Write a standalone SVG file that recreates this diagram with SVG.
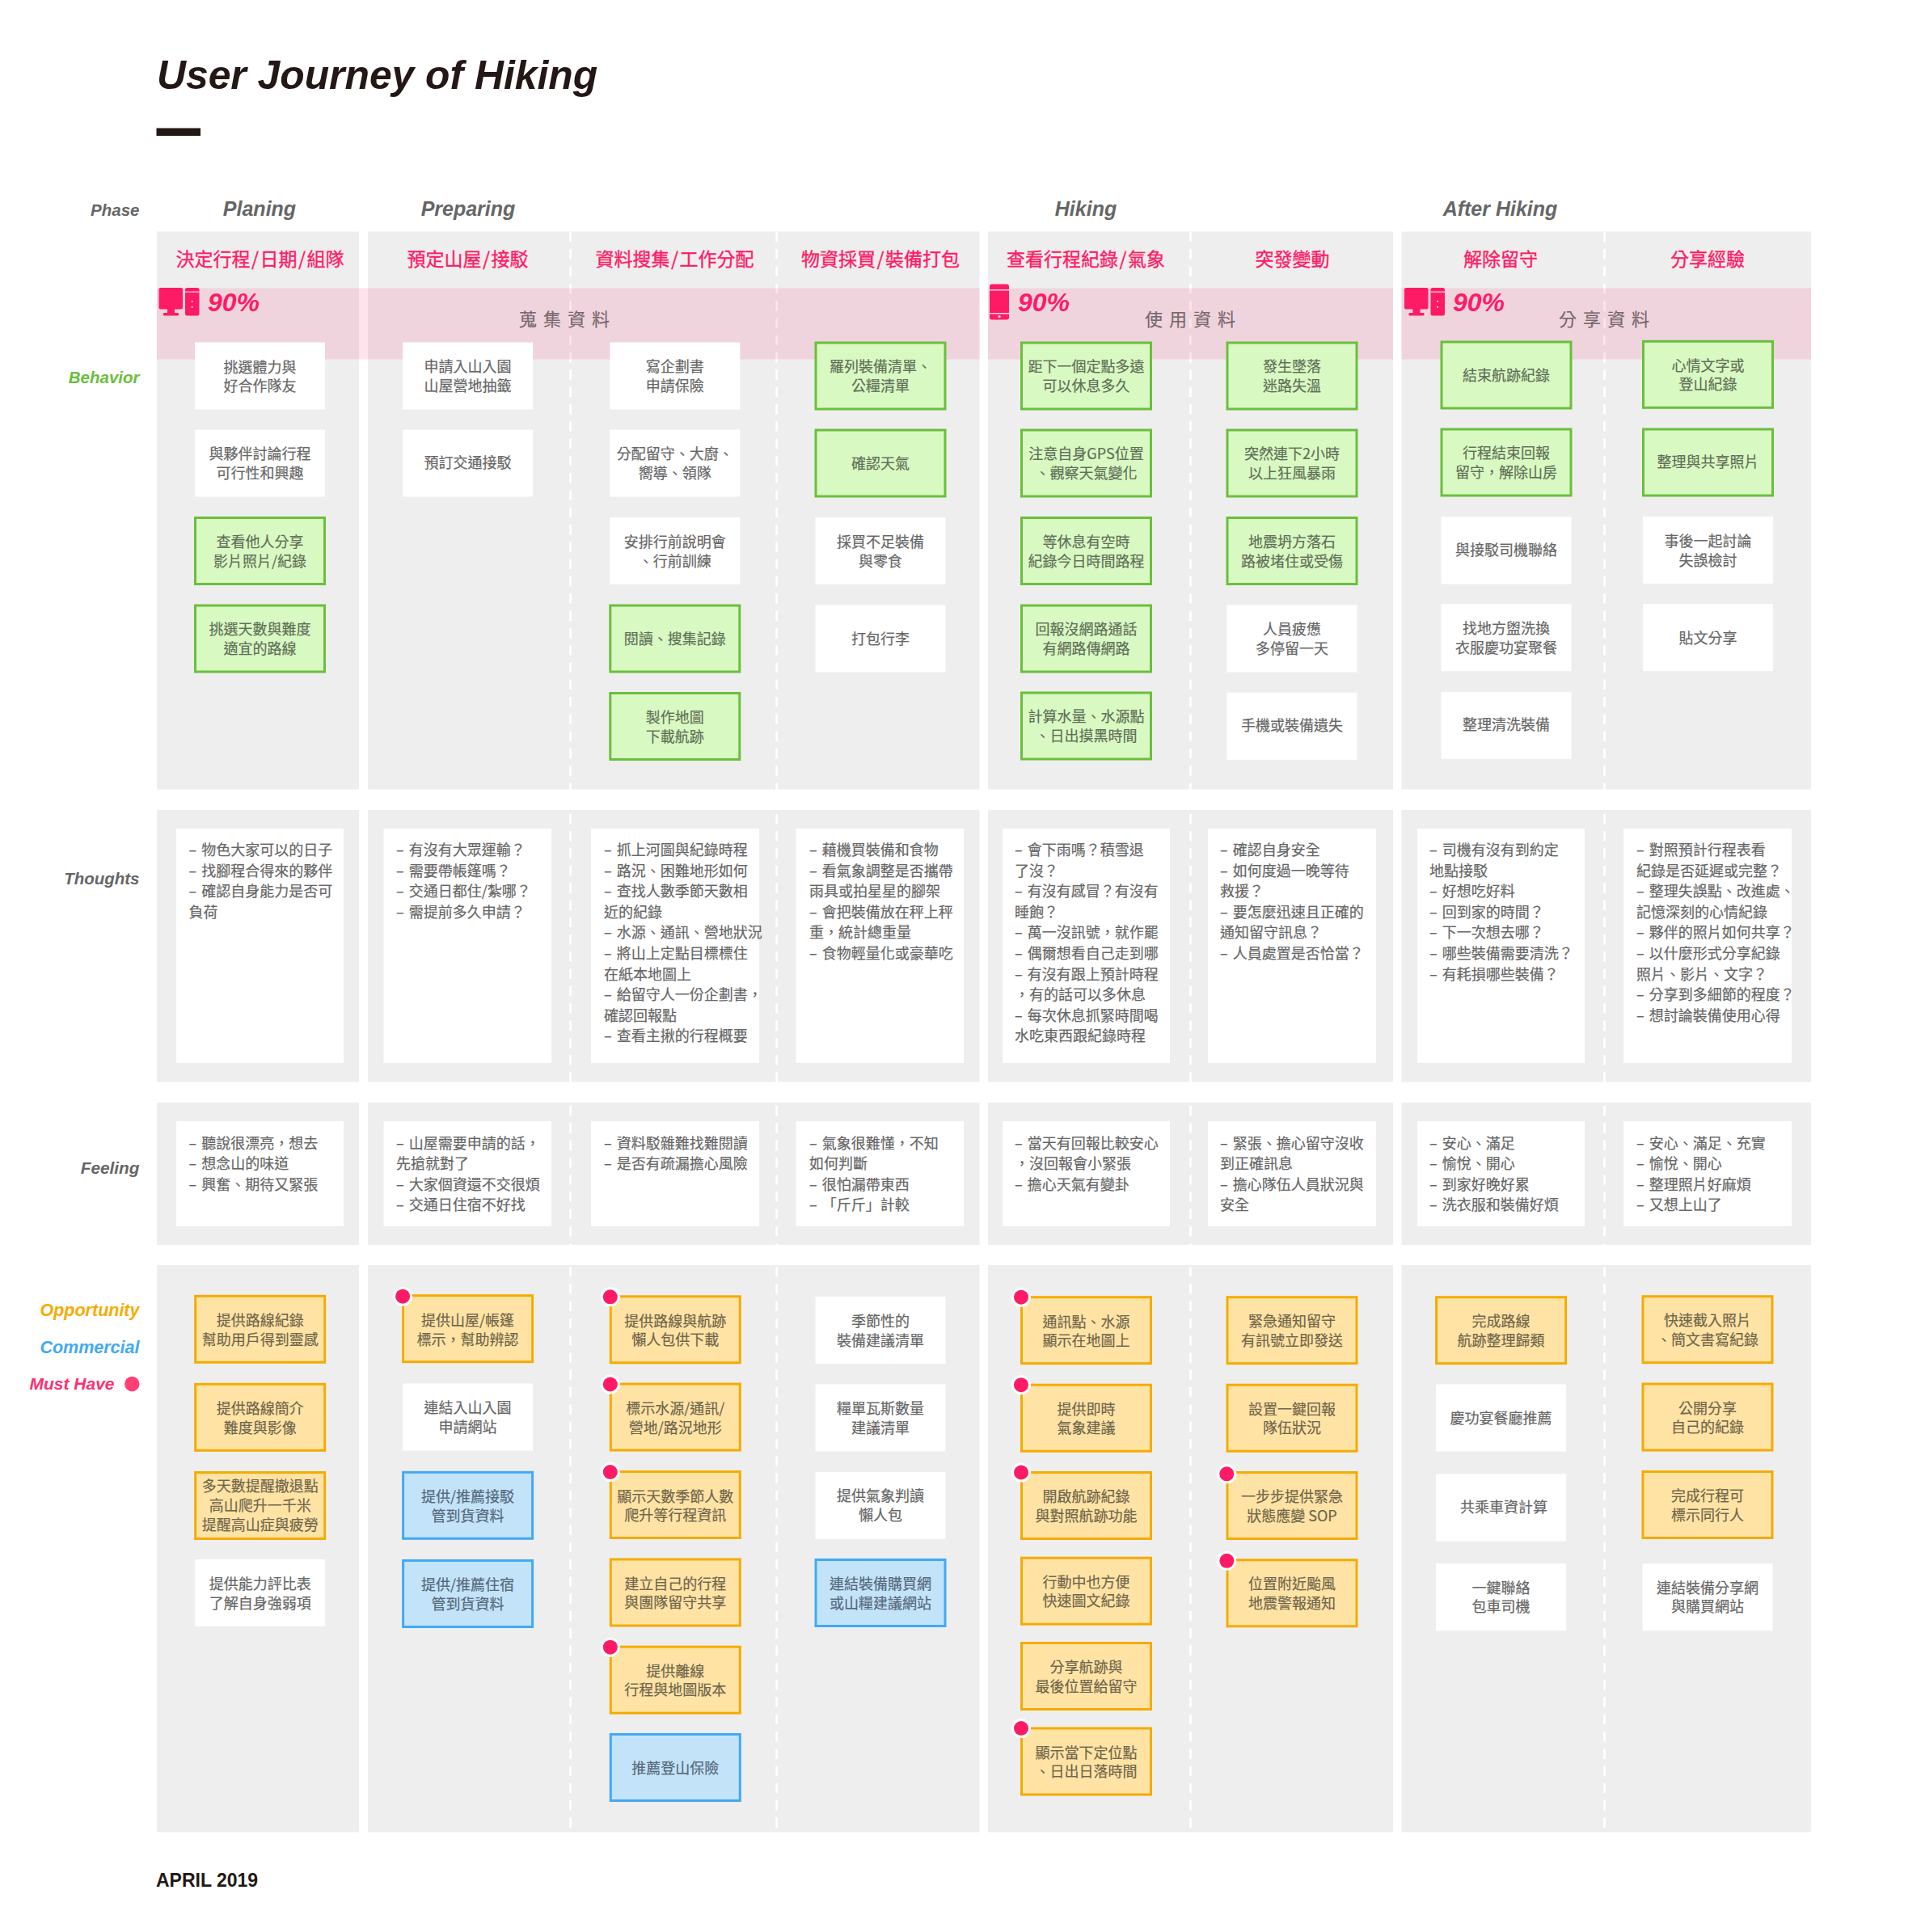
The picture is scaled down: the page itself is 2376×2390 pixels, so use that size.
<svg xmlns="http://www.w3.org/2000/svg" width="2376" height="2390" viewBox="0 0 2376 2390">
<style>
text{font-family:"Noto Sans CJK TC","Noto Sans",sans-serif}
.p{fill:#eee}
.d{stroke:#fff;stroke-width:2.8;stroke-dasharray:12.3 9;fill:none}
.band{fill:#ff1a66;fill-opacity:.12}
.w{fill:#fff}
.g{fill:#d9f9c2;stroke:#6abf3c;stroke-width:3}
.o{fill:#fee3a5;stroke:#f5ab00;stroke-width:3}
.b{fill:#c3e3f9;stroke:#42a9f5;stroke-width:3}
.t{font-size:18px;fill:#666;stroke:#666;stroke-width:.2;text-anchor:middle}
.tg{font-size:18px;fill:#5f6f58;stroke:#5f6f58;stroke-width:.2;text-anchor:middle}
.to{font-size:18px;fill:#70654a;stroke:#70654a;stroke-width:.2;text-anchor:middle}
.tb{font-size:18px;fill:#55687a;stroke:#55687a;stroke-width:.2;text-anchor:middle}
.l{font-size:18px;fill:#666;stroke:#666;stroke-width:.2;word-spacing:2px}
.ring{fill:#fff}
.dot{fill:#ff1a66}
.h{font-size:23px;fill:#ff1a66;stroke:#ff1a66;stroke-width:.35;text-anchor:middle}
.bt{font-size:22px;fill:#77696f;stroke:#77696f;stroke-width:.2;text-anchor:middle;word-spacing:3px}
.pc{font-family:"Liberation Sans",sans-serif;font-weight:700;font-style:italic;font-size:32px;fill:#ff1a66}
.ph{font-family:"Liberation Sans",sans-serif;font-weight:700;font-style:italic;font-size:25px;fill:#666;text-anchor:middle}
.rl{font-family:"Liberation Sans",sans-serif;font-weight:700;font-style:italic;font-size:20.5px;text-anchor:end}
.ic{fill:#ff1a66}
</style>

<g id="title">
<text x="194" y="110" style="font-family:'Liberation Sans',sans-serif;font-weight:700;font-style:italic;font-size:49.8px;fill:#231815">User Journey of Hiking</text>
<rect x="193.5" y="158.5" width="54.5" height="9.5" fill="#231815"/>
</g>

<g id="panels">
<rect class="p" x="194" y="286.5" width="250" height="690"/><rect class="p" x="455" y="286.5" width="756.5" height="690"/><rect class="p" x="1222" y="286.5" width="501" height="690"/><rect class="p" x="1733.5" y="286.5" width="506.5" height="690"/>
<rect class="p" x="194" y="1002" width="250" height="336.5"/><rect class="p" x="455" y="1002" width="756.5" height="336.5"/><rect class="p" x="1222" y="1002" width="501" height="336.5"/><rect class="p" x="1733.5" y="1002" width="506.5" height="336.5"/>
<rect class="p" x="194" y="1364" width="250" height="176"/><rect class="p" x="455" y="1364" width="756.5" height="176"/><rect class="p" x="1222" y="1364" width="501" height="176"/><rect class="p" x="1733.5" y="1364" width="506.5" height="176"/>
<rect class="p" x="194" y="1565" width="250" height="701.5"/><rect class="p" x="455" y="1565" width="756.5" height="701.5"/><rect class="p" x="1222" y="1565" width="501" height="701.5"/><rect class="p" x="1733.5" y="1565" width="506.5" height="701.5"/>
</g>

<g id="connectors">
<path class="d" d="M705.6 287V977M960.7 287V977M1472.4 287V977M1984.5 287V977"/>
<path class="d" d="M705.6 1007V1338.5M960.7 1007V1338.5M1472.4 1007V1338.5M1984.5 1007V1338.5"/>
<path class="d" d="M705.6 1368V1540M960.7 1368V1540M1472.4 1368V1540M1984.5 1368V1540"/>
<path class="d" d="M705.6 1567V2266.5M960.7 1567V2266.5M1472.4 1567V2266.5M1984.5 1567V2266.5"/>
</g>

<g id="bands">
<rect class="band" x="194" y="356.5" width="1017.5" height="88"/>
<rect class="band" x="1222" y="356.5" width="501" height="88"/>
<rect class="band" x="1733.5" y="356.5" width="506.5" height="88"/>
<text class="bt" x="698" y="403">蒐 集 資 料</text>
<text class="bt" x="1472" y="403">使 用 資 料</text>
<text class="bt" x="1984" y="403">分 享 資 料</text>
</g>

<g id="device-desktop-1">
<rect class="ic" x="196.5" y="356" width="29.5" height="26.5" rx="2"/><rect class="ic" x="207" y="382" width="9" height="5"/><rect class="ic" x="202" y="387" width="19" height="3.5" rx="1"/>
<rect class="ic" x="229" y="356" width="17.5" height="34.5" rx="2.5"/><rect x="229" y="360.5" width="17.5" height="1.2" fill="#f0d4de"/><rect x="236.8" y="372" width="1.6" height="1.6" fill="#fff"/><rect x="236.8" y="379" width="1.6" height="1.6" fill="#fff"/>
<text class="pc" x="257" y="384.5">90%</text>
</g>
<g id="device-phone">
<rect class="ic" x="1224" y="351.5" width="24" height="44" rx="3"/><rect x="1224" y="358" width="24" height="1.5" fill="#f0d4de"/><rect x="1224" y="387" width="24" height="1.5" fill="#f0d4de"/><circle cx="1236" cy="391.7" r="1.6" fill="#fff"/>
<text class="pc" x="1259" y="384.5">90%</text>
</g>
<g id="device-desktop-2">
<rect class="ic" x="1737" y="356" width="29.5" height="26.5" rx="2"/><rect class="ic" x="1747.5" y="382" width="9" height="5"/><rect class="ic" x="1742.5" y="387" width="19" height="3.5" rx="1"/>
<rect class="ic" x="1769.5" y="356" width="17.5" height="34.5" rx="2.5"/><rect x="1769.5" y="360.5" width="17.5" height="1.2" fill="#f0d4de"/><rect x="1777.3" y="372" width="1.6" height="1.6" fill="#fff"/><rect x="1777.3" y="379" width="1.6" height="1.6" fill="#fff"/>
<text class="pc" x="1797" y="384.5">90%</text>
</g>

<g id="phase-labels">
<text class="rl" x="172.5" y="267" fill="#666">Phase</text>
<text class="ph" x="321" y="267">Planing</text>
<text class="ph" x="579" y="267">Preparing</text>
<text class="ph" x="1343" y="267">Hiking</text>
<text class="ph" x="1855.5" y="267">After Hiking</text>
</g>

<g id="row-labels">
<text class="rl" x="172.5" y="474" fill="#6abf3c">Behavior</text>
<text class="rl" x="172.5" y="1094" fill="#666">Thoughts</text>
<text class="rl" x="172.5" y="1452" fill="#666" style="font-size:20.8px">Feeling</text>
<text class="rl" x="172.5" y="1628" fill="#f5ab00" style="font-size:21.5px">Opportunity</text>
<text class="rl" x="172.5" y="1674" fill="#42a9f5" style="font-size:21.5px">Commercial</text>
<text class="rl" x="141.5" y="1719" fill="#ff2f6f" style="font-size:21px">Must Have</text>
<circle cx="163.3" cy="1712" r="9.2" fill="#ff4076"/>
</g>

<g id="stage-headers">
<text class="h" x="321.5" y="329">決定行程<tspan dx="1.5">/</tspan><tspan dx="1.5">日期</tspan><tspan dx="1.5">/</tspan><tspan dx="1.5">組隊</tspan></text>
<text class="h" x="578.5" y="329">預定山屋<tspan dx="1.5">/</tspan><tspan dx="1.5">接駁</tspan></text>
<text class="h" x="834.5" y="329">資料搜集<tspan dx="1.5">/</tspan><tspan dx="1.5">工作分配</tspan></text>
<text class="h" x="1089" y="329">物資採買<tspan dx="1.5">/</tspan><tspan dx="1.5">裝備打包</tspan></text>
<text class="h" x="1343" y="329">查看行程紀錄<tspan dx="1.5">/</tspan><tspan dx="1.5">氣象</tspan></text>
<text class="h" x="1598.5" y="329">突發變動</text>
<text class="h" x="1856" y="329">解除留守</text>
<text class="h" x="2112" y="329">分享經驗</text>
</g>

<g id="behavior">
<g id="b1-1" transform="translate(321.5,465)"><rect class="w" x="-80.5" y="-41.5" width="161" height="83"/><text class="t" y="-4.5">挑選體力與</text><text class="t" y="19">好合作隊友</text></g>
<g id="b1-2" transform="translate(321.5,573)"><rect class="w" x="-80.5" y="-41.5" width="161" height="83"/><text class="t" y="-5">與夥伴討論行程</text><text class="t" y="19">可行性和興趣</text></g>
<g id="b1-3" transform="translate(321.5,681.5)"><rect class="g" x="-80" y="-41" width="160" height="82"/><text class="tg" y="-5">查看他人分享</text><text class="tg" y="19">影片照片/紀錄</text></g>
<g id="b1-4" transform="translate(321.5,790)"><rect class="g" x="-80" y="-41" width="160" height="82"/><text class="tg" y="-5">挑選天數與難度</text><text class="tg" y="19">適宜的路線</text></g>

<g id="b2-1" transform="translate(578.6,465)"><rect class="w" x="-80.5" y="-41.5" width="161" height="83"/><text class="t" y="-5">申請入山入園</text><text class="t" y="19">山屋營地抽籤</text></g>
<g id="b2-2" transform="translate(578.6,573)"><rect class="w" x="-80.5" y="-41.5" width="161" height="83"/><text class="t" y="6">預訂交通接駁</text></g>

<g id="b3-1" transform="translate(834.8,465)"><rect class="w" x="-80.5" y="-41.5" width="161" height="83"/><text class="t" y="-5">寫企劃書</text><text class="t" y="19">申請保險</text></g>
<g id="b3-2" transform="translate(834.8,573)"><rect class="w" x="-80.5" y="-41.5" width="161" height="83"/><text class="t" y="-5">分配留守、大廚、</text><text class="t" y="19">嚮導、領隊</text></g>
<g id="b3-3" transform="translate(834.8,681.5)"><rect class="w" x="-80.5" y="-41.5" width="161" height="83"/><text class="t" y="-5">安排行前說明會</text><text class="t" y="19">、行前訓練</text></g>
<g id="b3-4" transform="translate(834.8,790)"><rect class="g" x="-80" y="-41" width="160" height="82"/><text class="tg" y="7">閱讀、搜集記錄</text></g>
<g id="b3-5" transform="translate(834.8,898.5)"><rect class="g" x="-80" y="-41" width="160" height="82"/><text class="tg" y="-5">製作地圖</text><text class="tg" y="19">下載航跡</text></g>

<g id="b4-1" transform="translate(1089,465)"><rect class="g" x="-80" y="-41" width="160" height="82"/><text class="tg" y="-5">羅列裝備清單、</text><text class="tg" y="19">公糧清單</text></g>
<g id="b4-2" transform="translate(1089,573)"><rect class="g" x="-80" y="-41" width="160" height="82"/><text class="tg" y="7">確認天氣</text></g>
<g id="b4-3" transform="translate(1089,681.5)"><rect class="w" x="-80.5" y="-41.5" width="161" height="83"/><text class="t" y="-5">採買不足裝備</text><text class="t" y="19">與零食</text></g>
<g id="b4-4" transform="translate(1089,790)"><rect class="w" x="-80.5" y="-41.5" width="161" height="83"/><text class="t" y="7">打包行李</text></g>

<g id="b5-1" transform="translate(1343.5,465)"><rect class="g" x="-80" y="-41" width="160" height="82"/><text class="tg" y="-5">距下一個定點多遠</text><text class="tg" y="19">可以休息多久</text></g>
<g id="b5-2" transform="translate(1343.5,573)"><rect class="g" x="-80" y="-41" width="160" height="82"/><text class="tg" y="-5">注意自身GPS位置</text><text class="tg" y="19">、觀察天氣變化</text></g>
<g id="b5-3" transform="translate(1343.5,681.5)"><rect class="g" x="-80" y="-41" width="160" height="82"/><text class="tg" y="-5">等休息有空時</text><text class="tg" y="19">紀錄今日時間路程</text></g>
<g id="b5-4" transform="translate(1343.5,790)"><rect class="g" x="-80" y="-41" width="160" height="82"/><text class="tg" y="-5">回報沒網路通話</text><text class="tg" y="19">有網路傳網路</text></g>
<g id="b5-5" transform="translate(1343.5,898)"><rect class="g" x="-80" y="-41" width="160" height="82"/><text class="tg" y="-5">計算水量、水源點</text><text class="tg" y="19">、日出摸黑時間</text></g>

<g id="b6-1" transform="translate(1598,465)"><rect class="g" x="-80" y="-41" width="160" height="82"/><text class="tg" y="-5">發生墜落</text><text class="tg" y="19">迷路失溫</text></g>
<g id="b6-2" transform="translate(1598,573)"><rect class="g" x="-80" y="-41" width="160" height="82"/><text class="tg" y="-5">突然連下2小時</text><text class="tg" y="19">以上狂風暴雨</text></g>
<g id="b6-3" transform="translate(1598,681.5)"><rect class="g" x="-80" y="-41" width="160" height="82"/><text class="tg" y="-5">地震坍方落石</text><text class="tg" y="19">路被堵住或受傷</text></g>
<g id="b6-4" transform="translate(1598,790)"><rect class="w" x="-80.5" y="-41.5" width="161" height="83"/><text class="t" y="-5">人員疲憊</text><text class="t" y="19">多停留一天</text></g>
<g id="b6-5" transform="translate(1598,898.3)"><rect class="w" x="-80.5" y="-41.5" width="161" height="83"/><text class="t" y="6">手機或裝備遺失</text></g>

<g id="b7-1" transform="translate(1863,464)"><rect class="g" x="-80" y="-41" width="160" height="82"/><text class="tg" y="7">結束航跡紀錄</text></g>
<g id="b7-2" transform="translate(1863,572)"><rect class="g" x="-80" y="-41" width="160" height="82"/><text class="tg" y="-5">行程結束回報</text><text class="tg" y="19">留守，解除山房</text></g>
<g id="b7-3" transform="translate(1863,681)"><rect class="w" x="-80.5" y="-41.5" width="161" height="83"/><text class="t" y="5.5">與接駁司機聯絡</text></g>
<g id="b7-4" transform="translate(1863,788.7)"><rect class="w" x="-80.5" y="-41.5" width="161" height="83"/><text class="t" y="-5">找地方盥洗換</text><text class="t" y="19">衣服慶功宴聚餐</text></g>
<g id="b7-5" transform="translate(1863,897.3)"><rect class="w" x="-80.5" y="-41.5" width="161" height="83"/><text class="t" y="6">整理清洗裝備</text></g>

<g id="b8-1" transform="translate(2112.5,463.3)"><rect class="g" x="-80" y="-41" width="160" height="82"/><text class="tg" y="-4.5">心情文字或</text><text class="tg" y="19">登山紀錄</text></g>
<g id="b8-2" transform="translate(2112.5,572)"><rect class="g" x="-80" y="-41" width="160" height="82"/><text class="tg" y="6">整理與共享照片</text></g>
<g id="b8-3" transform="translate(2112.5,680.5)"><rect class="w" x="-80.5" y="-41.5" width="161" height="83"/><text class="t" y="-4.5">事後一起討論</text><text class="t" y="19">失誤檢討</text></g>
<g id="b8-4" transform="translate(2112.5,788.7)"><rect class="w" x="-80.5" y="-41.5" width="161" height="83"/><text class="t" y="7">貼文分享</text></g>
</g>

<g id="thoughts">
<g id="th1"><rect class="w" x="218" y="1025" width="207" height="290"/><text class="l" x="233.5" y="1058"><tspan x="233.5">– 物色大家可以的日子</tspan><tspan x="233.5" dy="25.6">– 找腳程合得來的夥伴</tspan><tspan x="233.5" dy="25.6">– 確認自身能力是否可</tspan><tspan x="233.5" dy="25.6">負荷</tspan></text></g>
<g id="th2"><rect class="w" x="474.5" y="1025" width="207.5" height="290"/><text class="l" y="1058"><tspan x="490">– 有沒有大眾運輸？</tspan><tspan x="490" dy="25.6">– 需要帶帳篷嗎？</tspan><tspan x="490" dy="25.6">– 交通日都住/紮哪？</tspan><tspan x="490" dy="25.6">– 需提前多久申請？</tspan></text></g>
<g id="th3"><rect class="w" x="731" y="1025" width="208" height="290"/><text class="l" y="1058"><tspan x="747">– 抓上河圖與紀錄時程</tspan><tspan x="747" dy="25.6">– 路況、困難地形如何</tspan><tspan x="747" dy="25.6">– 查找人數季節天數相</tspan><tspan x="747" dy="25.6">近的紀錄</tspan><tspan x="747" dy="25.6">– 水源、通訊、營地狀況</tspan><tspan x="747" dy="25.6">– 將山上定點目標標住</tspan><tspan x="747" dy="25.6">在紙本地圖上</tspan><tspan x="747" dy="25.6">– 給留守人一份企劃書，</tspan><tspan x="747" dy="25.6">確認回報點</tspan><tspan x="747" dy="25.6">– 查看主揪的行程概要</tspan></text></g>
<g id="th4"><rect class="w" x="984.5" y="1025" width="207.5" height="290"/><text class="l" y="1058"><tspan x="1001">– 藉機買裝備和食物</tspan><tspan x="1001" dy="25.6">– 看氣象調整是否攜帶</tspan><tspan x="1001" dy="25.6">雨具或拍星星的腳架</tspan><tspan x="1001" dy="25.6">– 會把裝備放在秤上秤</tspan><tspan x="1001" dy="25.6">重，統計總重量</tspan><tspan x="1001" dy="25.6">– 食物輕量化或豪華吃</tspan></text></g>
<g id="th5"><rect class="w" x="1240" y="1025" width="207" height="290"/><text class="l" y="1058"><tspan x="1255">– 會下雨嗎？積雪退</tspan><tspan x="1255" dy="25.6">了沒？</tspan><tspan x="1255" dy="25.6">– 有沒有感冒？有沒有</tspan><tspan x="1255" dy="25.6">睡飽？</tspan><tspan x="1255" dy="25.6">– 萬一沒訊號，就作罷</tspan><tspan x="1255" dy="25.6">– 偶爾想看自己走到哪</tspan><tspan x="1255" dy="25.6">– 有沒有跟上預計時程</tspan><tspan x="1255" dy="25.6">，有的話可以多休息</tspan><tspan x="1255" dy="25.6">– 每次休息抓緊時間喝</tspan><tspan x="1255" dy="25.6">水吃東西跟紀錄時程</tspan></text></g>
<g id="th6"><rect class="w" x="1494" y="1025" width="208" height="290"/><text class="l" y="1058"><tspan x="1509">– 確認自身安全</tspan><tspan x="1509" dy="25.6">– 如何度過一晚等待</tspan><tspan x="1509" dy="25.6">救援？</tspan><tspan x="1509" dy="25.6">– 要怎麼迅速且正確的</tspan><tspan x="1509" dy="25.6">通知留守訊息？</tspan><tspan x="1509" dy="25.6">– 人員處置是否恰當？</tspan></text></g>
<g id="th7"><rect class="w" x="1753" y="1025" width="207" height="290"/><text class="l" y="1058"><tspan x="1768">– 司機有沒有到約定</tspan><tspan x="1768" dy="25.6">地點接駁</tspan><tspan x="1768" dy="25.6">– 好想吃好料</tspan><tspan x="1768" dy="25.6">– 回到家的時間？</tspan><tspan x="1768" dy="25.6">– 下一次想去哪？</tspan><tspan x="1768" dy="25.6">– 哪些裝備需要清洗？</tspan><tspan x="1768" dy="25.6">– 有耗損哪些裝備？</tspan></text></g>
<g id="th8"><rect class="w" x="2008" y="1025" width="208" height="290"/><text class="l" y="1058"><tspan x="2024">– 對照預計行程表看</tspan><tspan x="2024" dy="25.6">紀錄是否延遲或完整？</tspan><tspan x="2024" dy="25.6">– 整理失誤點、改進處、</tspan><tspan x="2024" dy="25.6">記憶深刻的心情紀錄</tspan><tspan x="2024" dy="25.6">– 夥伴的照片如何共享？</tspan><tspan x="2024" dy="25.6">– 以什麼形式分享紀錄</tspan><tspan x="2024" dy="25.6">照片、影片、文字？</tspan><tspan x="2024" dy="25.6">– 分享到多細節的程度？</tspan><tspan x="2024" dy="25.6">– 想討論裝備使用心得</tspan></text></g>
</g>

<g id="feeling">
<g id="fe1"><rect class="w" x="218" y="1387" width="207" height="130"/><text class="l" y="1420.5"><tspan x="233.5">– 聽說很漂亮，想去</tspan><tspan x="233.5" dy="25.6">– 想念山的味道</tspan><tspan x="233.5" dy="25.6">– 興奮、期待又緊張</tspan></text></g>
<g id="fe2"><rect class="w" x="474.5" y="1387" width="207.5" height="130"/><text class="l" y="1420.5"><tspan x="490">– 山屋需要申請的話，</tspan><tspan x="490" dy="25.6">先搶就對了</tspan><tspan x="490" dy="25.6">– 大家個資還不交很煩</tspan><tspan x="490" dy="25.6">– 交通日住宿不好找</tspan></text></g>
<g id="fe3"><rect class="w" x="731" y="1387" width="208" height="130"/><text class="l" y="1420.5"><tspan x="747">– 資料駁雜難找難閱讀</tspan><tspan x="747" dy="25.6">– 是否有疏漏擔心風險</tspan></text></g>
<g id="fe4"><rect class="w" x="984.5" y="1387" width="207.5" height="130"/><text class="l" y="1420.5"><tspan x="1001">– 氣象很難懂，不知</tspan><tspan x="1001" dy="25.6">如何判斷</tspan><tspan x="1001" dy="25.6">– 很怕漏帶東西</tspan><tspan x="1001" dy="25.6">– 「斤斤」計較</tspan></text></g>
<g id="fe5"><rect class="w" x="1240" y="1387" width="207" height="130"/><text class="l" y="1420.5"><tspan x="1255">– 當天有回報比較安心</tspan><tspan x="1255" dy="25.6">，沒回報會小緊張</tspan><tspan x="1255" dy="25.6">– 擔心天氣有變卦</tspan></text></g>
<g id="fe6"><rect class="w" x="1494" y="1387" width="208" height="130"/><text class="l" y="1420.5"><tspan x="1509">– 緊張、擔心留守沒收</tspan><tspan x="1509" dy="25.6">到正確訊息</tspan><tspan x="1509" dy="25.6">– 擔心隊伍人員狀況與</tspan><tspan x="1509" dy="25.6">安全</tspan></text></g>
<g id="fe7"><rect class="w" x="1753" y="1387" width="207" height="130"/><text class="l" y="1420.5"><tspan x="1768">– 安心、滿足</tspan><tspan x="1768" dy="25.6">– 愉悅、開心</tspan><tspan x="1768" dy="25.6">– 到家好晚好累</tspan><tspan x="1768" dy="25.6">– 洗衣服和裝備好煩</tspan></text></g>
<g id="fe8"><rect class="w" x="2008" y="1387" width="208" height="130"/><text class="l" y="1420.5"><tspan x="2024">– 安心、滿足、充實</tspan><tspan x="2024" dy="25.6">– 愉悅、開心</tspan><tspan x="2024" dy="25.6">– 整理照片好麻煩</tspan><tspan x="2024" dy="25.6">– 又想上山了</tspan></text></g>
</g>

<g id="opportunity">
<g id="o1-1" transform="translate(321.7,1644.3)"><rect class="o" x="-80" y="-41" width="160" height="82"/><text class="to" y="-4">提供路線紀錄</text><text class="to" y="19.5">幫助用戶得到靈感</text></g>
<g id="o1-2" transform="translate(321.7,1753.3)"><rect class="o" x="-80" y="-41" width="160" height="82"/><text class="to" y="-4">提供路線簡介</text><text class="to" y="19.5">難度與影像</text></g>
<g id="o1-3" transform="translate(321.7,1862.5)"><rect class="o" x="-80" y="-41" width="160" height="82"/><text class="to" y="-18">多天數提醒撤退點</text><text class="to" y="6.5">高山爬升一千米</text><text class="to" y="30.5">提醒高山症與疲勞</text></g>
<g id="o1-4" transform="translate(321.7,1970.5)"><rect class="w" x="-80.5" y="-41.5" width="161" height="83"/><text class="t" y="-5">提供能力評比表</text><text class="t" y="19">了解自身強弱項</text></g>

<g id="o2-1" transform="translate(578.6,1643.7)"><rect class="o" x="-80" y="-41" width="160" height="82"/><text class="to" y="-3.5">提供山屋/帳篷</text><text class="to" y="20">標示，幫助辨認</text><circle class="ring" cx="-80.5" cy="-40" r="12"/><circle class="dot" cx="-80.5" cy="-40" r="9"/></g>
<g id="o2-2" transform="translate(578.6,1753)"><rect class="w" x="-80.5" y="-41.5" width="161" height="83"/><text class="t" y="-5">連結入山入園</text><text class="t" y="19">申請網站</text></g>
<g id="o2-3" transform="translate(578.6,1862.3)"><rect class="b" x="-80" y="-41" width="160" height="82"/><text class="tb" y="-4">提供/推薦接駁</text><text class="tb" y="20">管到貨資料</text></g>
<g id="o2-4" transform="translate(578.6,1971.5)"><rect class="b" x="-80" y="-41" width="160" height="82"/><text class="tb" y="-4.5">提供/推薦住宿</text><text class="tb" y="19">管到貨資料</text></g>

<g id="o3-1" transform="translate(835.3,1644.8)"><rect class="o" x="-80" y="-41" width="160" height="82"/><text class="to" y="-4">提供路線與航跡</text><text class="to" y="19.5">懶人包供下載</text><circle class="ring" cx="-80.5" cy="-40.5" r="12"/><circle class="dot" cx="-80.5" cy="-40.5" r="9"/></g>
<g id="o3-2" transform="translate(835.3,1753)"><rect class="o" x="-80" y="-41" width="160" height="82"/><text class="to" y="-4">標示水源/通訊/</text><text class="to" y="19.5">營地/路況地形</text><circle class="ring" cx="-80.5" cy="-40.5" r="12"/><circle class="dot" cx="-80.5" cy="-40.5" r="9"/></g>
<g id="o3-3" transform="translate(835.3,1861.5)"><rect class="o" x="-80" y="-41" width="160" height="82"/><text class="to" y="-4">顯示天數季節人數</text><text class="to" y="19.5">爬升等行程資訊</text><circle class="ring" cx="-80.5" cy="-40.5" r="12"/><circle class="dot" cx="-80.5" cy="-40.5" r="9"/></g>
<g id="o3-4" transform="translate(835.3,1970)"><rect class="o" x="-80" y="-41" width="160" height="82"/><text class="to" y="-4.5">建立自己的行程</text><text class="to" y="19">與團隊留守共享</text></g>
<g id="o3-5" transform="translate(835.3,2078.2)"><rect class="o" x="-80" y="-41" width="160" height="82"/><text class="to" y="-4.5">提供離線</text><text class="to" y="19">行程與地圖版本</text><circle class="ring" cx="-80.5" cy="-40.5" r="12"/><circle class="dot" cx="-80.5" cy="-40.5" r="9"/></g>
<g id="o3-6" transform="translate(835.3,2186.5)"><rect class="b" x="-80" y="-41" width="160" height="82"/><text class="tb" y="7">推薦登山保險</text></g>

<g id="o4-1" transform="translate(1089,1645.5)"><rect class="w" x="-80.5" y="-41.5" width="161" height="83"/><text class="t" y="-5">季節性的</text><text class="t" y="19">裝備建議清單</text></g>
<g id="o4-2" transform="translate(1089,1754)"><rect class="w" x="-80.5" y="-41.5" width="161" height="83"/><text class="t" y="-5">糧單瓦斯數量</text><text class="t" y="19">建議清單</text></g>
<g id="o4-3" transform="translate(1089,1862.3)"><rect class="w" x="-80.5" y="-41.5" width="161" height="83"/><text class="t" y="-5">提供氣象判讀</text><text class="t" y="19">懶人包</text></g>
<g id="o4-4" transform="translate(1089,1970.5)"><rect class="b" x="-80" y="-41" width="160" height="82"/><text class="tb" y="-4.5">連結裝備購買網</text><text class="tb" y="19">或山糧建議網站</text></g>

<g id="o5-1" transform="translate(1343.5,1645.7)"><rect class="o" x="-80" y="-41" width="160" height="82"/><text class="to" y="-4">通訊點、水源</text><text class="to" y="19.5">顯示在地圖上</text><circle class="ring" cx="-80.5" cy="-41" r="12"/><circle class="dot" cx="-80.5" cy="-41" r="9"/></g>
<g id="o5-2" transform="translate(1343.5,1754.2)"><rect class="o" x="-80" y="-41" width="160" height="82"/><text class="to" y="-4.5">提供即時</text><text class="to" y="19">氣象建議</text><circle class="ring" cx="-80.5" cy="-41" r="12"/><circle class="dot" cx="-80.5" cy="-41" r="9"/></g>
<g id="o5-3" transform="translate(1343.5,1862.5)"><rect class="o" x="-80" y="-41" width="160" height="82"/><text class="to" y="-4.5">開啟航跡紀錄</text><text class="to" y="19">與對照航跡功能</text><circle class="ring" cx="-80.5" cy="-41" r="12"/><circle class="dot" cx="-80.5" cy="-41" r="9"/></g>
<g id="o5-4" transform="translate(1343.5,1968.2)"><rect class="o" x="-80" y="-41" width="160" height="82"/><text class="to" y="-4.5">行動中也方便</text><text class="to" y="19">快速圖文紀錄</text></g>
<g id="o5-5" transform="translate(1343.5,2073.5)"><rect class="o" x="-80" y="-41" width="160" height="82"/><text class="to" y="-4.5">分享航跡與</text><text class="to" y="19">最後位置給留守</text></g>
<g id="o5-6" transform="translate(1343.5,2179)"><rect class="o" x="-80" y="-41" width="160" height="82"/><text class="to" y="-4.5">顯示當下定位點</text><text class="to" y="19">、日出日落時間</text><circle class="ring" cx="-80.5" cy="-41" r="12"/><circle class="dot" cx="-80.5" cy="-41" r="9"/></g>

<g id="o6-1" transform="translate(1598,1645.7)"><rect class="o" x="-80" y="-41" width="160" height="82"/><text class="to" y="-4.5">緊急通知留守</text><text class="to" y="19">有訊號立即發送</text></g>
<g id="o6-2" transform="translate(1598,1754.2)"><rect class="o" x="-80" y="-41" width="160" height="82"/><text class="to" y="-4.5">設置一鍵回報</text><text class="to" y="19">隊伍狀況</text></g>
<g id="o6-3" transform="translate(1598,1862.5)"><rect class="o" x="-80" y="-41" width="160" height="82"/><text class="to" y="-4.5">一步步提供緊急</text><text class="to" y="19">狀態應變 SOP</text><circle class="ring" cx="-80.7" cy="-39.2" r="12"/><circle class="dot" cx="-80.7" cy="-39.2" r="9"/></g>
<g id="o6-4" transform="translate(1598,1970.8)"><rect class="o" x="-80" y="-41" width="160" height="82"/><text class="to" y="-4.5">位置附近颱風</text><text class="to" y="19">地震警報通知</text><circle class="ring" cx="-80.7" cy="-40" r="12"/><circle class="dot" cx="-80.7" cy="-40" r="9"/></g>

<g id="o7-1" transform="translate(1856.6,1645.7)"><rect class="o" x="-80" y="-41" width="160" height="82"/><text class="to" y="-4.5">完成路線</text><text class="to" y="19">航跡整理歸類</text></g>
<g id="o7-2" transform="translate(1856.6,1754)"><rect class="w" x="-80.5" y="-41.5" width="161" height="83"/><text class="t" y="7">慶功宴餐廳推薦</text></g>
<g id="o7-3" transform="translate(1856.6,1865)"><rect class="w" x="-80.5" y="-41.5" width="161" height="83"/><text class="t" x="3.4" y="6">共乘車資計算</text></g>
<g id="o7-4" transform="translate(1856.6,1975.8)"><rect class="w" x="-80.5" y="-41.5" width="161" height="83"/><text class="t" y="-4.5">一鍵聯絡</text><text class="t" y="18">包車司機</text></g>

<g id="o8-1" transform="translate(2112,1644.7)"><rect class="o" x="-80" y="-41" width="160" height="82"/><text class="to" y="-4.5">快速截入照片</text><text class="to" y="19">、簡文書寫紀錄</text></g>
<g id="o8-2" transform="translate(2112,1753)"><rect class="o" x="-80" y="-41" width="160" height="82"/><text class="to" y="-4.5">公開分享</text><text class="to" y="19">自己的紀錄</text></g>
<g id="o8-3" transform="translate(2112,1861.5)"><rect class="o" x="-80" y="-41" width="160" height="82"/><text class="to" y="-4.5">完成行程可</text><text class="to" y="19">標示同行人</text></g>
<g id="o8-4" transform="translate(2112,1975.8)"><rect class="w" x="-80.5" y="-41.5" width="161" height="83"/><text class="t" y="-4.5">連結裝備分享網</text><text class="t" y="18">與購買網站</text></g>
</g>

<g id="footer"><text x="193" y="2334" style="font-family:'Liberation Sans',sans-serif;font-weight:700;font-size:23px;fill:#231815">APRIL 2019</text></g>
</svg>
